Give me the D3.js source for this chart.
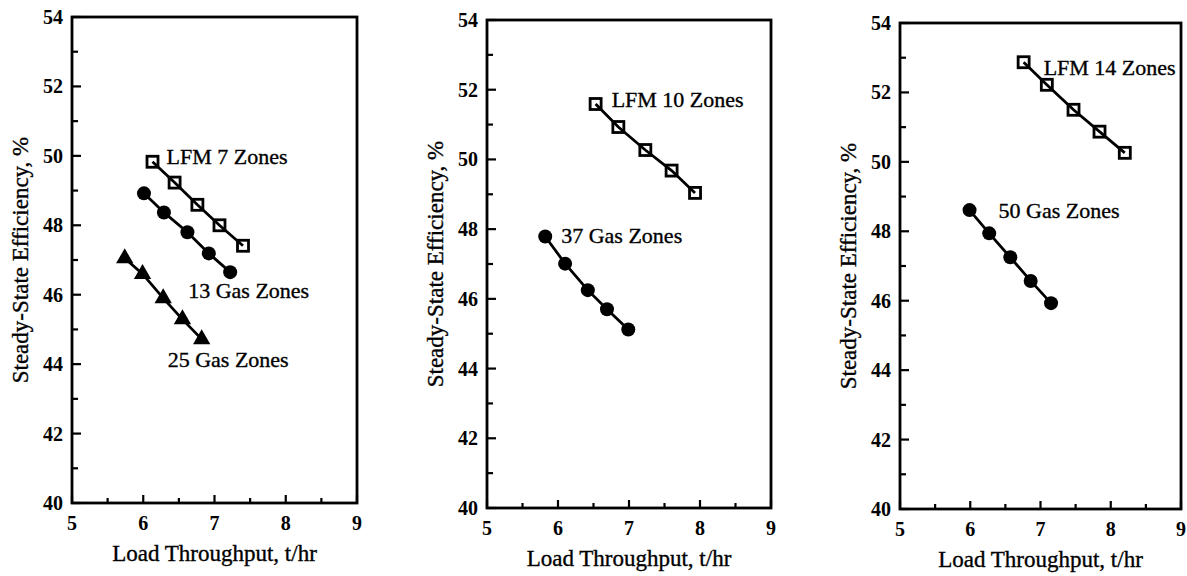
<!DOCTYPE html>
<html>
<head>
<meta charset="utf-8">
<script src="https://cdn.jsdelivr.net/npm/d3@7"></script>
<style>
  html, body { margin: 0; padding: 0; background: #fff; }
  svg { display: block; }
  text { font-family: "Liberation Serif", "Times New Roman", serif; fill: #000; }
  text.ink { stroke: #000; stroke-width: 0.35px; }
</style>
</head>
<body>
<svg id="chart" width="1187" height="576"></svg>
<script>
// Axis ticks shared by all three panels
const xTickValues = [5, 6, 7, 8, 9];
const xMinorTicks = [5.5, 6.5, 7.5, 8.5];
const yTickValues = [40, 42, 44, 46, 48, 50, 52, 54];
const yMinorTicks = [41, 43, 45, 47, 49, 51, 53];

// Panel 1
const lfm7Load = [6.13, 6.44, 6.76, 7.07, 7.40];
const lfm7Eff  = [49.83, 49.23, 48.59, 48.00, 47.41];
const gas13Load = [6.01, 6.29, 6.62, 6.92, 7.22];
const gas13Eff  = [48.92, 48.37, 47.80, 47.19, 46.65];
const gas25Load = [5.74, 5.99, 6.28, 6.55, 6.82];
const gas25Eff  = [47.05, 46.60, 45.90, 45.29, 44.72];

// Panel 2
const lfm10Load = [6.53, 6.85, 7.23, 7.60, 7.93];
const lfm10Eff  = [51.59, 50.93, 50.27, 49.68, 49.04];
const gas37Load = [5.82, 6.10, 6.42, 6.69, 6.99];
const gas37Eff  = [47.79, 47.01, 46.25, 45.70, 45.12];

// Panel 3
const lfm14Load = [6.76, 7.09, 7.47, 7.84, 8.20];
const lfm14Eff  = [52.87, 52.22, 51.50, 50.87, 50.26];
const gas50Load = [5.99, 6.27, 6.57, 6.86, 7.15];
const gas50Eff  = [48.61, 47.94, 47.25, 46.57, 45.93];

const seriesLabels = ["LFM 7 Zones", "13 Gas Zones", "25 Gas Zones",
                      "LFM 10 Zones", "37 Gas Zones",
                      "LFM 14 Zones", "50 Gas Zones"];

const xTitle = "Load Throughput, t/hr";
const yTitle = "Steady-State Efficiency, %";

const zip = (xs, ys) => xs.map((x, i) => ({ x, y: ys[i] }));

// Panel frames and how each series is drawn / labelled
const panels = [
  {
    box: { left: 72, right: 357, top: 17, bottom: 503 },
    series: [
      { pts: zip(lfm7Load, lfm7Eff), marker: "square", label: seriesLabels[0], at: 0, dx: 14, dy: 2 },
      { pts: zip(gas13Load, gas13Eff), marker: "circle", label: seriesLabels[1], at: 4, dx: -42, dy: 26 },
      { pts: zip(gas25Load, gas25Eff), marker: "triangle", label: seriesLabels[2], at: 4, dx: -34, dy: 28 }
    ]
  },
  {
    box: { left: 487, right: 771, top: 20, bottom: 508 },
    series: [
      { pts: zip(lfm10Load, lfm10Eff), marker: "square", label: seriesLabels[3], at: 0, dx: 16, dy: 3 },
      { pts: zip(gas37Load, gas37Eff), marker: "circle", label: seriesLabels[4], at: 0, dx: 16, dy: 7 }
    ]
  },
  {
    box: { left: 900, right: 1181, top: 23, bottom: 509 },
    series: [
      { pts: zip(lfm14Load, lfm14Eff), marker: "square", label: seriesLabels[5], at: 0, dx: 20, dy: 13 },
      { pts: zip(gas50Load, gas50Eff), marker: "circle", label: seriesLabels[6], at: 0, dx: 29, dy: 8 }
    ]
  }
];

const svg = d3.select("#chart");
const INK = "#000";

panels.forEach(p => {
  const b = p.box;
  const x = d3.scaleLinear().domain([5, 9]).range([b.left, b.right]);
  const y = d3.scaleLinear().domain([40, 54]).range([b.bottom, b.top]);
  const g = svg.append("g");

  // Inward major and minor ticks on the left and bottom edges
  g.append("g").selectAll("line")
    .data(xTickValues.map(v => ({ v, len: 8 })).concat(xMinorTicks.map(v => ({ v, len: 5 }))))
    .join("line")
    .attr("x1", d => x(d.v)).attr("x2", d => x(d.v))
    .attr("y1", b.bottom).attr("y2", d => b.bottom - d.len)
    .attr("stroke", INK).attr("stroke-width", 2.2);

  g.append("g").selectAll("line")
    .data(yTickValues.map(v => ({ v, len: 9 })).concat(yMinorTicks.map(v => ({ v, len: 6 }))))
    .join("line")
    .attr("x1", b.left).attr("x2", d => b.left + d.len)
    .attr("y1", d => y(d.v)).attr("y2", d => y(d.v))
    .attr("stroke", INK).attr("stroke-width", 2.2);

  // Frame
  g.append("rect")
    .attr("x", b.left).attr("y", b.top)
    .attr("width", b.right - b.left).attr("height", b.bottom - b.top)
    .attr("fill", "none").attr("stroke", INK).attr("stroke-width", 2.8);

  // Tick labels
  g.append("g").selectAll("text")
    .data(xTickValues).join("text")
    .attr("x", d => x(d)).attr("y", b.bottom + 27)
    .attr("text-anchor", "middle")
    .attr("font-size", 20).attr("font-weight", "bold")
    .text(d => d);

  g.append("g").selectAll("text")
    .data(yTickValues).join("text")
    .attr("x", b.left - 9).attr("y", d => y(d))
    .attr("dy", "0.35em")
    .attr("text-anchor", "end")
    .attr("font-size", 20).attr("font-weight", "bold")
    .text(d => d);

  // Axis titles
  g.append("text").attr("class", "ink")
    .attr("x", (b.left + b.right) / 2).attr("y", b.bottom + 58)
    .attr("text-anchor", "middle").attr("font-size", 23)
    .text(xTitle);

  g.append("text").attr("class", "ink")
    .attr("transform", `translate(${b.left - 44},${(b.top + b.bottom) / 2}) rotate(-90)`)
    .attr("text-anchor", "middle").attr("font-size", 23)
    .text(yTitle);

  const line = d3.line().x(d => x(d.x)).y(d => y(d.y));

  p.series.forEach(s => {
    g.append("path")
      .attr("d", line(s.pts))
      .attr("fill", "none").attr("stroke", INK).attr("stroke-width", 2.8);

    const m = g.append("g").selectAll("g").data(s.pts).join("g")
      .attr("transform", d => `translate(${x(d.x)},${y(d.y)})`);

    if (s.marker === "square") {
      m.append("rect")
        .attr("x", -5.5).attr("y", -5.5).attr("width", 11).attr("height", 11)
        .attr("fill", "none").attr("stroke", INK).attr("stroke-width", 2.8);
    } else if (s.marker === "circle") {
      m.append("circle").attr("r", 7).attr("fill", INK);
    } else {
      m.append("path")
        .attr("d", d3.symbol(d3.symbolTriangle, 130)())
        .attr("fill", INK);
    }

    const a = s.pts[s.at];
    g.append("text").attr("class", "ink")
      .attr("x", x(a.x) + s.dx).attr("y", y(a.y) + s.dy)
      .attr("font-size", 22)
      .text(s.label);
  });
});
</script>
</body>
</html>
